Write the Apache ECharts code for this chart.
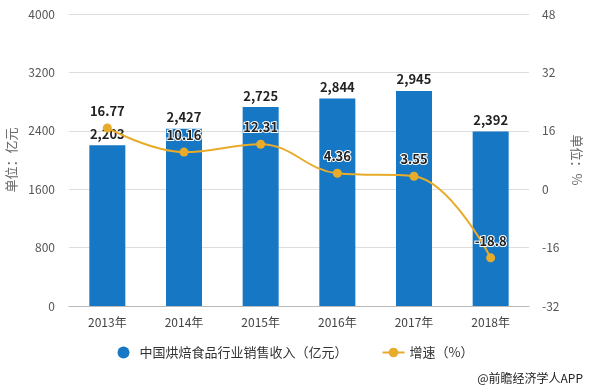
<!DOCTYPE html>
<html><head><meta charset="utf-8">
<script src="https://cdn.jsdelivr.net/npm/echarts@6/dist/echarts.min.js"></script>
<style>html,body{margin:0;padding:0;background:#fff}#c{width:591px;height:390px}</style>
</head><body><div id="c"></div>
<script>
var categories = ['2013年','2014年','2015年','2016年','2017年','2018年'];
var revenue = [2203, 2427, 2725, 2844, 2945, 2392];
var growth = [16.77, 10.16, 12.31, 4.36, 3.55, -18.8];
var leftTicks = {min: 0, max: 4000, interval: 800};
var rightTicks = {min: -32, max: 48, interval: 16};
var seriesNames = ['中国烘焙食品行业销售收入（亿元）', '增速（%）'];
var source = '@前瞻经济学人APP';

var chart = echarts.init(document.getElementById('c'));
var font = '"Microsoft YaHei","Noto Sans CJK SC",sans-serif';
chart.setOption({
  animation: false,
  textStyle: {fontFamily: font},
  grid: {left: 69, right: 62, top: 14, bottom: 84, containLabel: false, outerBoundsMode: 'none'},
  legend: {
    bottom: 26, left: 'center', itemGap: 34, itemWidth: 22, itemHeight: 12,
    textStyle: {fontSize: 13, color: '#333', fontFamily: font},
    data: [{name: seriesNames[0], icon: 'circle'}, {name: seriesNames[1]}]
  },
  graphic: [{type: 'text', right: 8, bottom: 6, style: {text: source, fontSize: 12, fill: '#222', fontFamily: font}}],
  xAxis: {
    type: 'category', data: categories,
    axisLine: {lineStyle: {color: '#bbb'}}, axisTick: {show: false},
    axisLabel: {color: '#444', fontSize: 12, margin: 10}
  },
  yAxis: [{
    type: 'value', min: leftTicks.min, max: leftTicks.max, interval: leftTicks.interval,
    name: '单位：亿元', nameLocation: 'middle', nameGap: 50, nameRotate: 90,
    nameTextStyle: {color: '#666', fontSize: 13},
    axisLine: {show: false}, axisTick: {show: false},
    axisLabel: {color: '#555', fontSize: 12, margin: 14, formatter: function(v){ return String(v); }},
    splitLine: {lineStyle: {color: '#ddd'}}
  }, {
    type: 'value', min: rightTicks.min, max: rightTicks.max, interval: rightTicks.interval,
    name: '单位：%', nameLocation: 'middle', nameGap: 38, nameRotate: -90,
    nameTextStyle: {color: '#666', fontSize: 13},
    axisLine: {show: false}, axisTick: {show: false},
    axisLabel: {color: '#555', fontSize: 12, margin: 13},
    splitLine: {show: false}
  }],
  series: [{
    name: seriesNames[0], type: 'bar', data: revenue, barWidth: 36,
    itemStyle: {color: '#1677C5'},
    label: {show: true, position: 'top', color: '#222', fontWeight: 'bold', fontSize: 13,
      formatter: function(p){ return p.value.toLocaleString('en-US'); }}
  }, {
    name: seriesNames[1], type: 'line', yAxisIndex: 1, data: growth, smooth: 0.4,
    symbol: 'circle', symbolSize: 9,
    lineStyle: {color: '#E8AB2A', width: 2}, itemStyle: {color: '#E8AB2A'},
    label: {show: true, position: 'top', distance: 6, color: '#222', fontWeight: 'bold', fontSize: 13,
      textBorderColor: '#fff', textBorderWidth: 2}
  }]
});
</script></body></html>
